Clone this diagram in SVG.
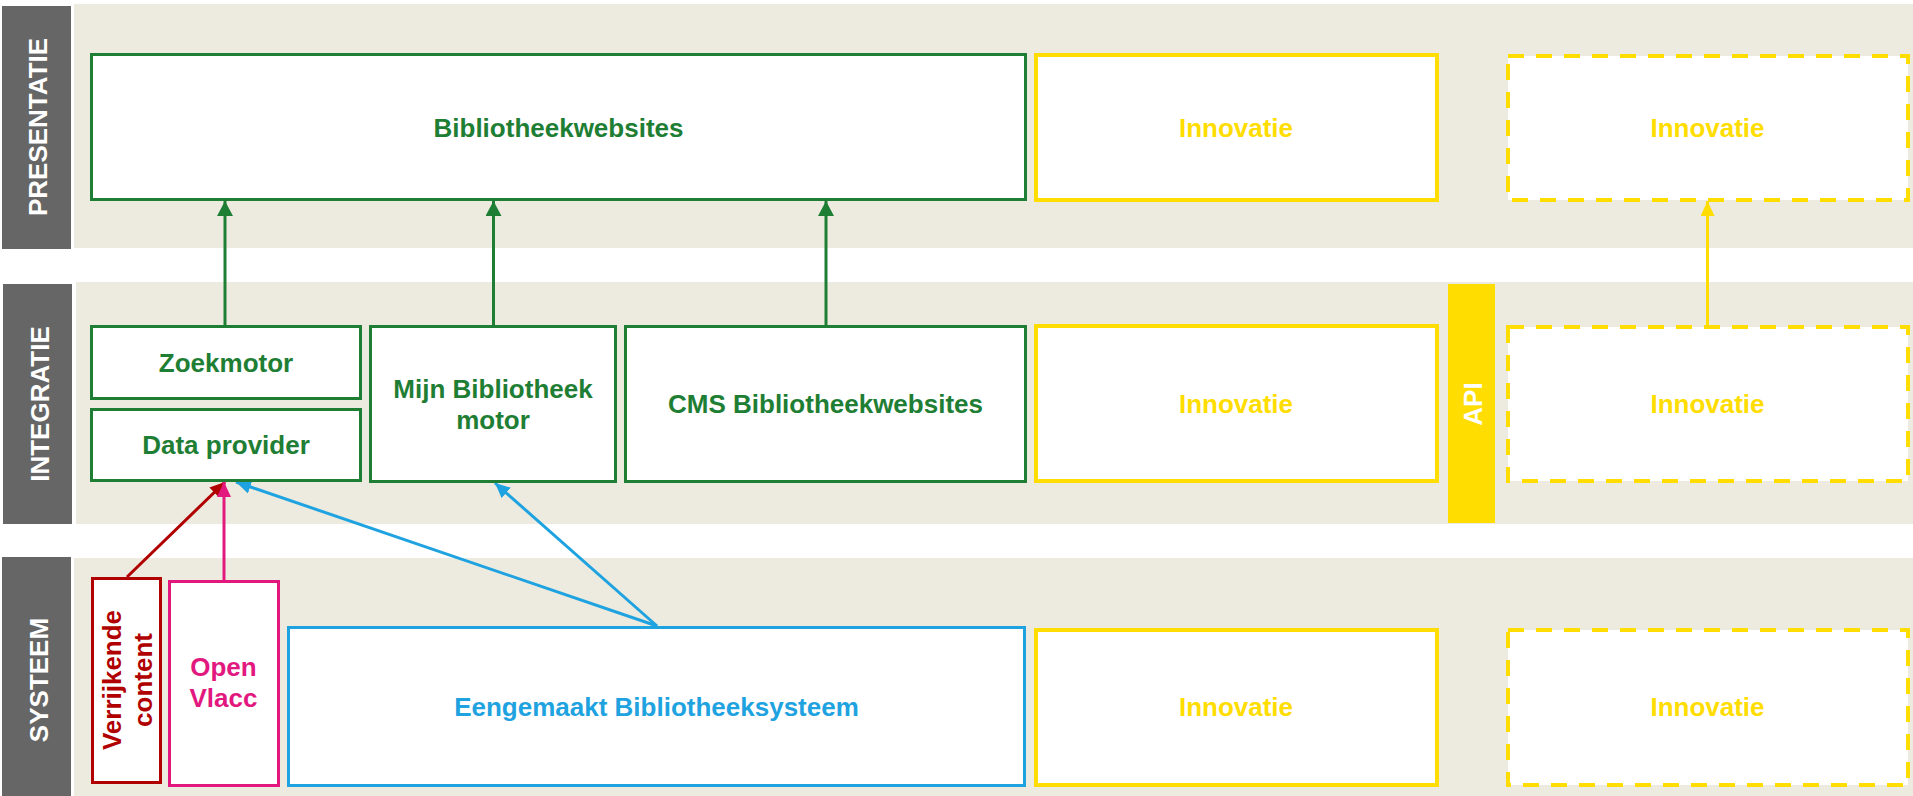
<svg xmlns="http://www.w3.org/2000/svg" width="1913" height="796" viewBox="0 0 1913 796">
<style>
.band{fill:#EDEBE0}
.lbl{fill:#666666}
.t{font-family:"Liberation Sans",Arial,Helvetica,sans-serif;font-weight:bold;font-size:26px;text-anchor:middle}
.w{fill:#FFFFFF}
.g{fill:#1E7E34}
.y{fill:#FFDD00}
.b{fill:#1FA3E0}
.r{fill:#B00000}
.p{fill:#E2187F}
.bx{fill:#FFFFFF;stroke-width:3}
.gs{stroke:#1E7E34}
.ys{stroke:#FFDD00;stroke-width:4}
.yd{stroke:#FFDD00;stroke-width:4;stroke-dasharray:16 12}
.bs{stroke:#1FA3E0}
.rs{stroke:#B00000}
.ps{stroke:#E2187F}
.c{fill:none;stroke-width:3}
</style>
<defs>
<marker id="ag" markerUnits="userSpaceOnUse" markerWidth="16" markerHeight="16" refX="15" refY="8" orient="auto"><path d="M0,0 L15,8 L0,16 z" fill="#1E7E34"/></marker>
<marker id="ay" markerUnits="userSpaceOnUse" markerWidth="16" markerHeight="14" refX="15" refY="7" orient="auto"><path d="M0,0 L15,7 L0,14 z" fill="#FFDD00"/></marker>
<marker id="ab" markerUnits="userSpaceOnUse" markerWidth="16" markerHeight="14" refX="15" refY="7" orient="auto"><path d="M0,0 L15,7 L0,14 z" fill="#1FA3E0"/></marker>
<marker id="ar" markerUnits="userSpaceOnUse" markerWidth="16" markerHeight="14" refX="15" refY="7" orient="auto"><path d="M0,0 L15,7 L0,14 z" fill="#B00000"/></marker>
<marker id="ap" markerUnits="userSpaceOnUse" markerWidth="16" markerHeight="14" refX="15" refY="7" orient="auto"><path d="M0,0 L15,7 L0,14 z" fill="#E2187F"/></marker>
</defs>
<rect width="1913" height="796" fill="#FFFFFF"/>
<g id="layers">
<rect class="band" x="74" y="4" width="1839" height="244"/>
<rect class="band" x="76" y="282" width="1837" height="242"/>
<rect class="band" x="74" y="558" width="1839" height="238"/>
<g id="lbl-presentatie"><rect class="lbl" x="2" y="6" width="69" height="243"/><text class="t w" x="47" y="127" transform="rotate(-90 47 127)">PRESENTATIE</text></g>
<g id="lbl-integratie"><rect class="lbl" x="3" y="284" width="69" height="240"/><text class="t w" x="49" y="404" transform="rotate(-90 49 404)">INTEGRATIE</text></g>
<g id="lbl-systeem"><rect class="lbl" x="2" y="557" width="69" height="239"/><text class="t w" x="48" y="680" transform="rotate(-90 48 680)">SYSTEEM</text></g>
</g>
<g id="connectors">
<line class="c gs" x1="225" y1="326" x2="225" y2="201" marker-end="url(#ag)"/>
<line class="c gs" x1="493.5" y1="326" x2="493.5" y2="201" marker-end="url(#ag)"/>
<line class="c gs" x1="826" y1="326" x2="826" y2="201" marker-end="url(#ag)"/>
<line class="c" stroke="#FFDD00" stroke-width="2.5" x1="1707.5" y1="326" x2="1707.5" y2="201" marker-end="url(#ay)"/>
<line class="c rs" x1="127" y1="577" x2="225" y2="482" marker-end="url(#ar)"/>
<line class="c ps" x1="224" y1="580" x2="224" y2="482" marker-end="url(#ap)"/>
<line class="c bs" x1="657" y1="626" x2="236" y2="482" marker-end="url(#ab)"/>
<line class="c bs" x1="657" y1="626" x2="495" y2="483" marker-end="url(#ab)"/>
</g>
<g id="bibliotheekwebsites"><rect class="bx gs" x="91.5" y="54.5" width="934" height="145"/><text class="t g" x="558.5" y="137">Bibliotheekwebsites</text></g>
<g id="innovatie-p1"><rect class="bx ys" x="1036" y="55" width="401" height="145"/><text class="t y" x="1236" y="137">Innovatie</text></g>
<g id="innovatie-p2"><rect class="bx yd" x="1508" y="56" width="400" height="144"/><text class="t y" x="1707.5" y="137">Innovatie</text></g>
<g id="zoekmotor"><rect class="bx gs" x="91.5" y="326.5" width="269" height="72"/><text class="t g" x="226" y="372">Zoekmotor</text></g>
<g id="data-provider"><rect class="bx gs" x="91.5" y="409.5" width="269" height="71"/><text class="t g" x="226" y="454">Data provider</text></g>
<g id="mijn-bibliotheek"><rect class="bx gs" x="370.5" y="326.5" width="245" height="155"/><text class="t g" x="493" y="398">Mijn Bibliotheek</text><text class="t g" x="493" y="429">motor</text></g>
<g id="cms"><rect class="bx gs" x="625.5" y="326.5" width="400" height="155"/><text class="t g" x="825.5" y="413">CMS Bibliotheekwebsites</text></g>
<g id="innovatie-i1"><rect class="bx ys" x="1036" y="326" width="401" height="155"/><text class="t y" x="1236" y="413">Innovatie</text></g>
<g id="api"><rect x="1448" y="284" width="47" height="239" fill="#FFDD00"/><text class="t w" x="1482" y="404" transform="rotate(-90 1482 404)">API</text></g>
<g id="innovatie-i2"><rect class="bx yd" x="1508" y="327" width="400" height="154"/><text class="t y" x="1707.5" y="413">Innovatie</text></g>
<g id="verrijkende-content"><rect class="bx rs" x="92.5" y="578.5" width="68" height="204"/><text class="t r" x="121" y="680" transform="rotate(-90 121 680)">Verrijkende</text><text class="t r" x="152" y="680" transform="rotate(-90 152 680)">content</text></g>
<g id="open-vlacc"><rect class="bx ps" x="169.5" y="581.5" width="109" height="204"/><text class="t p" x="223.5" y="676">Open</text><text class="t p" x="223.5" y="707">Vlacc</text></g>
<g id="eengemaakt"><rect class="bx bs" x="288.5" y="627.5" width="736" height="158"/><text class="t b" x="656.5" y="716">Eengemaakt Bibliotheeksysteem</text></g>
<g id="innovatie-s1"><rect class="bx ys" x="1036" y="630" width="401" height="155"/><text class="t y" x="1236" y="716">Innovatie</text></g>
<g id="innovatie-s2"><rect class="bx yd" x="1508" y="630" width="400" height="155"/><text class="t y" x="1707.5" y="716">Innovatie</text></g>
</svg>
